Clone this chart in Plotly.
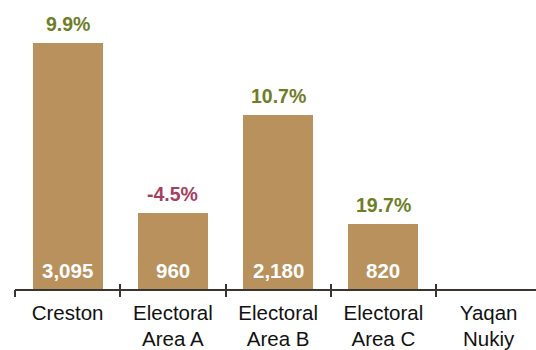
import plotly.graph_objects as go

# Population by area, with percent change since the previous census
areas = ["Creston", "Electoral<br>Area A", "Electoral<br>Area B", "Electoral<br>Area C", "Yaqan<br>Nukiy"]
population = [3095, 960, 2180, 820, None]
pct_change = [9.9, -4.5, 10.7, 19.7, None]

BAR = "#B9915C"
POS = "#6E7E27"
NEG = "#A63F5E"
AXIS = "#3B3531"
FONT = "Liberation Sans, Arial, sans-serif"

xs = list(range(len(areas)))
bar_x = [x for x, v in zip(xs, population) if v is not None]
bar_y = [v for v in population if v is not None]

fig = go.Figure()
fig.add_trace(go.Bar(
    x=bar_x, y=bar_y, width=0.667,
    marker=dict(color=BAR, line=dict(width=0)),
    hoverinfo="skip", showlegend=False,
))

# value labels at bar bases, change labels above bar tops
for x, v, p in zip(xs, population, pct_change):
    if v is None:
        continue
    fig.add_annotation(x=x, y=0, text=f"<b>{v:,}</b>", showarrow=False,
                       yanchor="middle", yshift=19,
                       font=dict(family=FONT, size=20.5, color="white"))
    fig.add_annotation(x=x, y=v, text=f"<b>{p:.1f}%</b>", showarrow=False,
                       yanchor="middle", yshift=19,
                       font=dict(family=FONT, size=19.5, color=POS if p >= 0 else NEG))

boundaries = [i - 0.5 for i in range(len(areas))]
xrange = [-0.5, len(areas) - 0.55]

fig.update_layout(
    width=536, height=350,
    margin=dict(l=15, r=0, t=10, b=61),
    paper_bgcolor="white", plot_bgcolor="white",
    font=dict(family=FONT, size=20.5, color="#111111"),
    xaxis=dict(range=xrange, tickvals=xs, ticktext=areas, ticks="",
               ticklabelstandoff=4,
               showline=True, linecolor=AXIS, linewidth=2,
               showgrid=False, zeroline=False, fixedrange=True,
               tickfont=dict(family=FONT, size=20.5, color="#111111")),
    xaxis2=dict(range=xrange, overlaying="x", anchor="y", side="bottom",
                tickvals=boundaries, ticks="outside", ticklen=7, tickwidth=2,
                tickcolor=AXIS, showticklabels=False, showline=False,
                showgrid=False, zeroline=False),
    xaxis3=dict(range=xrange, overlaying="x", anchor="y", side="bottom",
                tickvals=boundaries, ticks="inside", ticklen=5, tickwidth=2,
                tickcolor=AXIS, showticklabels=False, showline=False,
                showgrid=False, zeroline=False),
    yaxis=dict(range=[0, 3505], visible=False, fixedrange=True),
    bargap=0,
)
# empty traces so the overlay axes are drawn
fig.add_trace(go.Scatter(x=[None], y=[None], xaxis="x2", showlegend=False, hoverinfo="skip"))
fig.add_trace(go.Scatter(x=[None], y=[None], xaxis="x3", showlegend=False, hoverinfo="skip"))

fig.write_html("out.html", config={"displayModeBar": False})
